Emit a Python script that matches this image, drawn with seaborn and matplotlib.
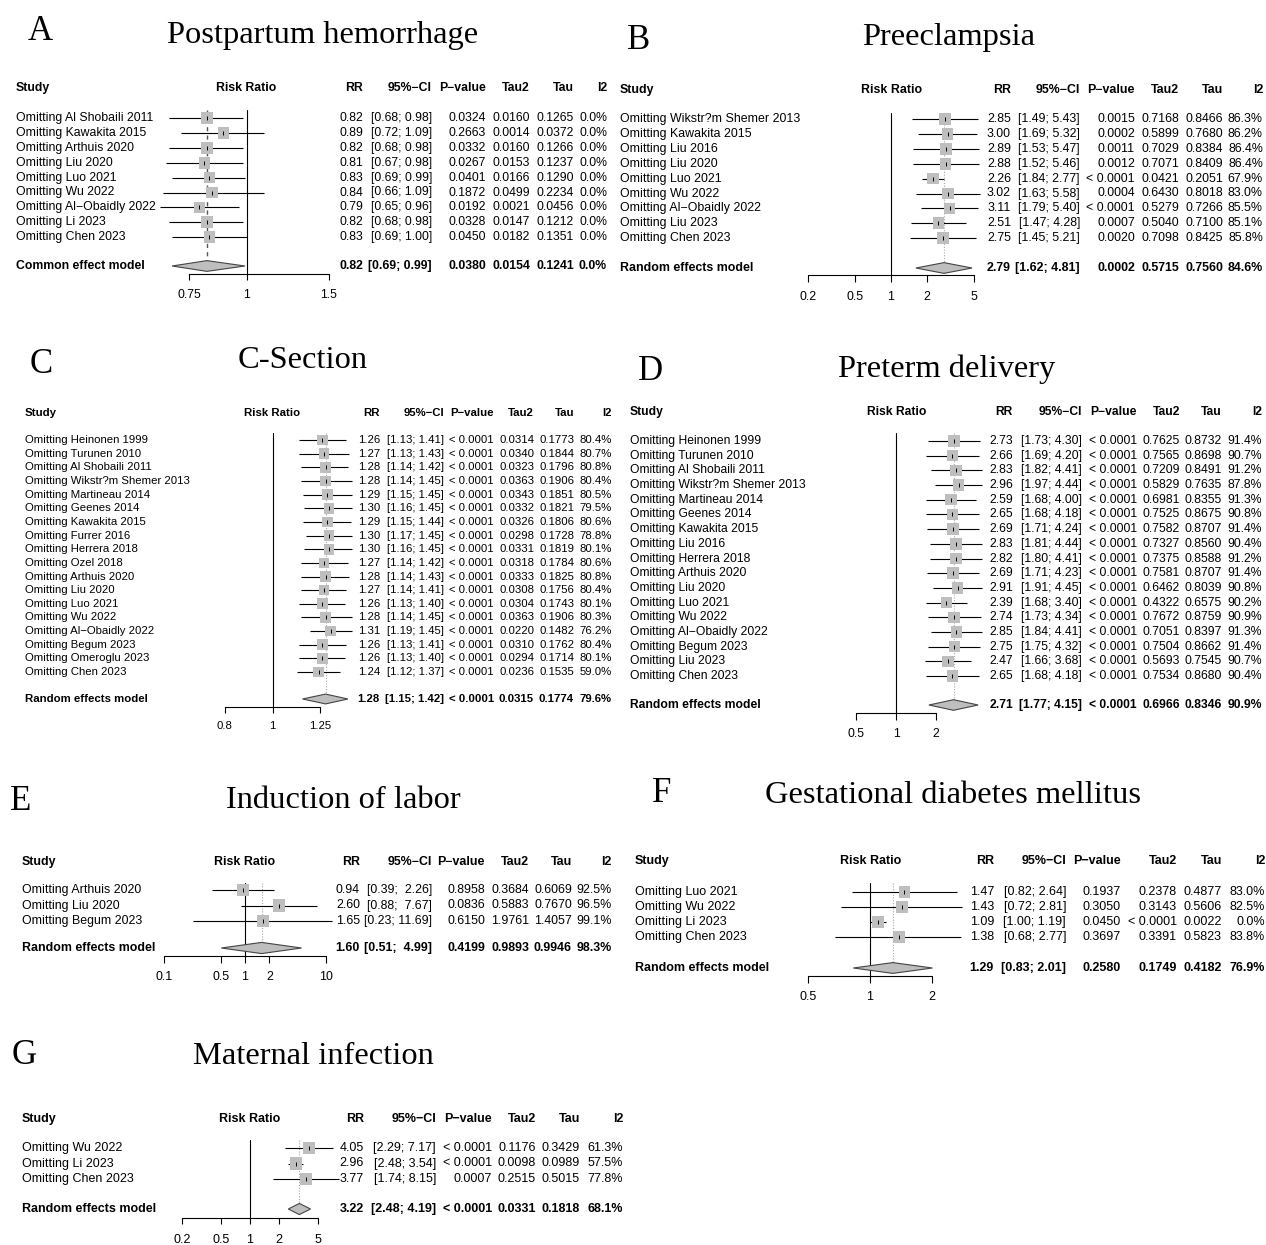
import numpy as np
import pandas as pd
import matplotlib
matplotlib.use("Agg")
import matplotlib.pyplot as plt
import seaborn as sns

M = "\u2212"

# ---------------- A: Postpartum hemorrhage ----------------
a_study = ["Omitting Al Shobaili 2011", "Omitting Kawakita 2015", "Omitting Arthuis 2020",
           "Omitting Liu 2020", "Omitting Luo 2021", "Omitting Wu 2022",
           "Omitting Al" + M + "Obaidly 2022", "Omitting Li 2023", "Omitting Chen 2023"]
a_rr = [0.82, 0.89, 0.82, 0.81, 0.83, 0.84, 0.79, 0.82, 0.83]
a_lo = [0.68, 0.72, 0.68, 0.67, 0.69, 0.66, 0.65, 0.68, 0.69]
a_hi = [0.98, 1.09, 0.98, 0.98, 0.99, 1.09, 0.96, 0.98, 1.00]
a_p = [0.0324, 0.2663, 0.0332, 0.0267, 0.0401, 0.1872, 0.0192, 0.0328, 0.0450]
a_tau2 = [0.0160, 0.0014, 0.0160, 0.0153, 0.0166, 0.0499, 0.0021, 0.0147, 0.0182]
a_tau = [0.1265, 0.0372, 0.1266, 0.1237, 0.1290, 0.2234, 0.0456, 0.1212, 0.1351]
a_i2 = [0.0, 0.0, 0.0, 0.0, 0.0, 0.0, 0.0, 0.0, 0.0]
a_sum = [0.82, 0.69, 0.99, 0.0380, 0.0154, 0.1241, 0.0]

# ---------------- B: Preeclampsia ----------------
b_study = ["Omitting Wikstr?m Shemer 2013", "Omitting Kawakita 2015", "Omitting Liu 2016",
           "Omitting Liu 2020", "Omitting Luo 2021", "Omitting Wu 2022",
           "Omitting Al" + M + "Obaidly 2022", "Omitting Liu 2023", "Omitting Chen 2023"]
b_rr = [2.85, 3.00, 2.89, 2.88, 2.26, 3.02, 3.11, 2.51, 2.75]
b_lo = [1.49, 1.69, 1.53, 1.52, 1.84, 1.63, 1.79, 1.47, 1.45]
b_hi = [5.43, 5.32, 5.47, 5.46, 2.77, 5.58, 5.40, 4.28, 5.21]
b_p = [0.0015, 0.0002, 0.0011, 0.0012, 0.0, 0.0004, 0.0, 0.0007, 0.0020]
b_tau2 = [0.7168, 0.5899, 0.7029, 0.7071, 0.0421, 0.6430, 0.5279, 0.5040, 0.7098]
b_tau = [0.8466, 0.7680, 0.8384, 0.8409, 0.2051, 0.8018, 0.7266, 0.7100, 0.8425]
b_i2 = [86.3, 86.2, 86.4, 86.4, 67.9, 83.0, 85.5, 85.1, 85.8]
b_sum = [2.79, 1.62, 4.81, 0.0002, 0.5715, 0.7560, 84.6]

# ---------------- C: C-Section ----------------
c_study = ["Omitting Heinonen 1999", "Omitting Turunen 2010", "Omitting Al Shobaili 2011",
           "Omitting Wikstr?m Shemer 2013", "Omitting Martineau 2014", "Omitting Geenes 2014",
           "Omitting Kawakita 2015", "Omitting Furrer 2016", "Omitting Herrera 2018",
           "Omitting Ozel 2018", "Omitting Arthuis 2020", "Omitting Liu 2020",
           "Omitting Luo 2021", "Omitting Wu 2022", "Omitting Al" + M + "Obaidly 2022",
           "Omitting Begum 2023", "Omitting Omeroglu 2023", "Omitting Chen 2023"]
c_rr = [1.26, 1.27, 1.28, 1.28, 1.29, 1.30, 1.29, 1.30, 1.30, 1.27, 1.28, 1.27, 1.26, 1.28, 1.31, 1.26, 1.26, 1.24]
c_lo = [1.13, 1.13, 1.14, 1.14, 1.15, 1.16, 1.15, 1.17, 1.16, 1.14, 1.14, 1.14, 1.13, 1.14, 1.19, 1.13, 1.13, 1.12]
c_hi = [1.41, 1.43, 1.42, 1.45, 1.45, 1.45, 1.44, 1.45, 1.45, 1.42, 1.43, 1.41, 1.40, 1.45, 1.45, 1.41, 1.40, 1.37]
c_p = [0.0] * 18
c_tau2 = [0.0314, 0.0340, 0.0323, 0.0363, 0.0343, 0.0332, 0.0326, 0.0298, 0.0331, 0.0318, 0.0333, 0.0308,
          0.0304, 0.0363, 0.0220, 0.0310, 0.0294, 0.0236]
c_tau = [0.1773, 0.1844, 0.1796, 0.1906, 0.1851, 0.1821, 0.1806, 0.1728, 0.1819, 0.1784, 0.1825, 0.1756,
         0.1743, 0.1906, 0.1482, 0.1762, 0.1714, 0.1535]
c_i2 = [80.4, 80.7, 80.8, 80.4, 80.5, 79.5, 80.6, 78.8, 80.1, 80.6, 80.8, 80.4, 80.1, 80.3, 76.2, 80.4, 80.1, 59.0]
c_sum = [1.28, 1.15, 1.42, 0.0, 0.0315, 0.1774, 79.6]

# ---------------- D: Preterm delivery ----------------
d_study = ["Omitting Heinonen 1999", "Omitting Turunen 2010", "Omitting Al Shobaili 2011",
           "Omitting Wikstr?m Shemer 2013", "Omitting Martineau 2014", "Omitting Geenes 2014",
           "Omitting Kawakita 2015", "Omitting Liu 2016", "Omitting Herrera 2018",
           "Omitting Arthuis 2020", "Omitting Liu 2020", "Omitting Luo 2021", "Omitting Wu 2022",
           "Omitting Al" + M + "Obaidly 2022", "Omitting Begum 2023", "Omitting Liu 2023",
           "Omitting Chen 2023"]
d_rr = [2.73, 2.66, 2.83, 2.96, 2.59, 2.65, 2.69, 2.83, 2.82, 2.69, 2.91, 2.39, 2.74, 2.85, 2.75, 2.47, 2.65]
d_lo = [1.73, 1.69, 1.82, 1.97, 1.68, 1.68, 1.71, 1.81, 1.80, 1.71, 1.91, 1.68, 1.73, 1.84, 1.75, 1.66, 1.68]
d_hi = [4.30, 4.20, 4.41, 4.44, 4.00, 4.18, 4.24, 4.44, 4.41, 4.23, 4.45, 3.40, 4.34, 4.41, 4.32, 3.68, 4.18]
d_p = [0.0] * 17
d_tau2 = [0.7625, 0.7565, 0.7209, 0.5829, 0.6981, 0.7525, 0.7582, 0.7327, 0.7375, 0.7581, 0.6462, 0.4322,
          0.7672, 0.7051, 0.7504, 0.5693, 0.7534]
d_tau = [0.8732, 0.8698, 0.8491, 0.7635, 0.8355, 0.8675, 0.8707, 0.8560, 0.8588, 0.8707, 0.8039, 0.6575,
         0.8759, 0.8397, 0.8662, 0.7545, 0.8680]
d_i2 = [91.4, 90.7, 91.2, 87.8, 91.3, 90.8, 91.4, 90.4, 91.2, 91.4, 90.8, 90.2, 90.9, 91.3, 91.4, 90.7, 90.4]
d_sum = [2.71, 1.77, 4.15, 0.0, 0.6966, 0.8346, 90.9]

# ---------------- E: Induction of labor ----------------
e_study = ["Omitting Arthuis 2020", "Omitting Liu 2020", "Omitting Begum 2023"]
e_rr = [0.94, 2.60, 1.65]
e_lo = [0.39, 0.88, 0.23]
e_hi = [2.26, 7.67, 11.69]
e_p = [0.8958, 0.0836, 0.6150]
e_tau2 = [0.3684, 0.5883, 1.9761]
e_tau = [0.6069, 0.7670, 1.4057]
e_i2 = [92.5, 96.5, 99.1]
e_sum = [1.60, 0.51, 4.99, 0.4199, 0.9893, 0.9946, 98.3]

# ---------------- F: Gestational diabetes mellitus ----------------
f_study = ["Omitting Luo 2021", "Omitting Wu 2022", "Omitting Li 2023", "Omitting Chen 2023"]
f_rr = [1.47, 1.43, 1.09, 1.38]
f_lo = [0.82, 0.72, 1.00, 0.68]
f_hi = [2.64, 2.81, 1.19, 2.77]
f_p = [0.1937, 0.3050, 0.0450, 0.3697]
f_tau2 = [0.2378, 0.3143, 0.0, 0.3391]
f_tau = [0.4877, 0.5606, 0.0022, 0.5823]
f_i2 = [83.0, 82.5, 0.0, 83.8]
f_sum = [1.29, 0.83, 2.01, 0.2580, 0.1749, 0.4182, 76.9]

# ---------------- G: Maternal infection ----------------
g_study = ["Omitting Wu 2022", "Omitting Li 2023", "Omitting Chen 2023"]
g_rr = [4.05, 2.96, 3.77]
g_lo = [2.29, 2.48, 1.74]
g_hi = [7.17, 3.54, 8.15]
g_p = [0.0, 0.0, 0.0007]
g_tau2 = [0.1176, 0.0098, 0.2515]
g_tau = [0.3429, 0.0989, 0.5015]
g_i2 = [61.3, 57.5, 77.8]
g_sum = [3.22, 2.48, 4.19, 0.0, 0.0331, 0.1818, 68.1]

# layout in pixels of the 1266x1245 canvas
panels = [
    dict(letter="A", title="Postpartum hemorrhage", data=(a_study, a_rr, a_lo, a_hi, a_p, a_tau2, a_tau, a_i2, a_sum),
         model="Common effect model", fs=8.85, sx=16, one=247, k=202, rrc=246,
         cols=[363, 432, 486, 530, 574, 607], yh=88, y0=118, step=14.9, ys=266, ya=274, yt=280, yl=295,
         yv=110, ticks=[0.75, 1, 1.5], lpos=(28, 40), tpos=(167, 43), dash=True),
    dict(letter="B", title="Preeclampsia", data=(b_study, b_rr, b_lo, b_hi, b_p, b_tau2, b_tau, b_i2, b_sum),
         model="Random effects model", fs=8.9, sx=620, one=891, k=51.6, rrc=892,
         cols=[1011, 1080, 1135, 1179, 1223, 1263], yh=90, y0=119, step=14.9, ys=268, ya=275, yt=282, yl=297,
         yv=113, ticks=[0.2, 0.5, 1, 2, 5], lpos=(627, 49), tpos=(862, 45), dash=False),
    dict(letter="C", title="C-Section", data=(c_study, c_rr, c_lo, c_hi, c_p, c_tau2, c_tau, c_i2, c_sum),
         model="Random effects model", fs=8.17, sx=25, one=272.5, k=215, rrc=272,
         cols=[380, 444, 494, 534, 574, 612], yh=413, y0=440, step=13.65, ys=699, ya=707, yt=713, yl=726,
         yv=433, ticks=[0.8, 1, 1.25], lpos=(30, 373), tpos=(238, 368), dash=False),
    dict(letter="D", title="Preterm delivery", data=(d_study, d_rr, d_lo, d_hi, d_p, d_tau2, d_tau, d_i2, d_sum),
         model="Random effects model", fs=8.77, sx=630, one=896, k=57.7, rrc=897,
         cols=[1013, 1082, 1137, 1180, 1222, 1262], yh=412, y0=441, step=14.69, ys=705, ya=713, yt=720, yl=734,
         yv=433, ticks=[0.5, 1, 2], lpos=(638, 380), tpos=(838, 377), dash=False),
    dict(letter="E", title="Induction of labor", data=(e_study, e_rr, e_lo, e_hi, e_p, e_tau2, e_tau, e_i2, e_sum),
         model="Random effects model", fs=8.9, sx=22, one=245, k=35.2, rrc=245,
         cols=[360, 432, 485, 529, 572, 612], yh=862, y0=890, step=15.5, ys=948, ya=956, yt=963, yl=977,
         yv=883, ticks=[0.1, 0.5, 1, 2, 10], lpos=(10, 810), tpos=(226, 808), dash=False),
    dict(letter="F", title="Gestational diabetes mellitus", data=(f_study, f_rr, f_lo, f_hi, f_p, f_tau2, f_tau, f_i2, f_sum),
         model="Random effects model", fs=9.0, sx=635, one=870, k=89.5, rrc=871,
         cols=[994, 1066, 1121, 1177, 1222, 1265], yh=861, y0=892, step=15.0, ys=968, ya=976, yt=983, yl=997,
         yv=883, ticks=[0.5, 1, 2], lpos=(652, 802), tpos=(765, 803), dash=False),
    dict(letter="G", title="Maternal infection", data=(g_study, g_rr, g_lo, g_hi, g_p, g_tau2, g_tau, g_i2, g_sum),
         model="Random effects model", fs=9.0, sx=22, one=250, k=42.2, rrc=250,
         cols=[364, 436, 492, 536, 580, 623], yh=1119, y0=1148, step=15.5, ys=1209, ya=1218, yt=1224, yl=1240,
         yv=1140, ticks=[0.2, 0.5, 1, 2, 5], lpos=(12, 1064), tpos=(193, 1064), dash=False),
]

W, H = 1266, 1245
sns.set_theme(style="white")
plt.rcParams["font.family"] = ["Liberation Sans", "DejaVu Sans"]
plt.rcParams["text.color"] = "black"

fig = plt.figure(figsize=(W / 100, H / 100), dpi=100)
fig.patch.set_facecolor("white")
canvas = fig.add_axes([0, 0, 1, 1])
canvas.set_xlim(0, W)
canvas.set_ylim(H, 0)
canvas.axis("off")

SERIF = ["Liberation Serif", "DejaVu Serif"]
SQ_COL = "#BEBEBE"


def fmt_p(v):
    return "< 0.0001" if v < 0.0001 else f"{v:.4f}"


for pan in panels:
    study, rr, lo, hi, pv, tau2, tau, i2, summ = pan["data"]
    n = len(study)
    fs = pan["fs"]
    step = pan["step"]
    ys_rows = [pan["y0"] + i * step for i in range(n)]
    ysum = pan["ys"]

    # letters and titles
    canvas.text(pan["lpos"][0], pan["lpos"][1], pan["letter"], family=SERIF, fontsize=25,
                ha="left", va="baseline")
    canvas.text(pan["tpos"][0], pan["tpos"][1], pan["title"], family=SERIF, fontsize=23.4,
                ha="left", va="baseline")

    # header
    canvas.text(pan["sx"], pan["yh"], "Study", fontsize=fs, weight="bold", ha="left", va="center")
    canvas.text(pan["rrc"], pan["yh"], "Risk Ratio", fontsize=fs, weight="bold", ha="center", va="center")
    for lab, cx in zip(["RR", "95%" + M + "CI", "P" + M + "value", "Tau2", "Tau", "I2"], pan["cols"]):
        canvas.text(cx, pan["yh"], lab, fontsize=fs, weight="bold", ha="right", va="center")

    # text columns
    los = [f"{v:.2f}" for v in lo + [summ[1]]]
    his = [f"{v:.2f}" for v in hi + [summ[2]]]
    wl = max(len(s) for s in los)
    wh = max(len(s) for s in his)
    ci = ["[" + a.rjust(wl) + "; " + b.rjust(wh) + "]" for a, b in zip(los, his)]
    rows = []
    for i in range(n):
        rows.append((study[i], [f"{rr[i]:.2f}", ci[i], fmt_p(pv[i]), fmt_p(tau2[i]),
                                f"{tau[i]:.4f}", f"{i2[i]:.1f}%"], ys_rows[i], "normal"))
    rows.append((pan["model"], [f"{summ[0]:.2f}", ci[-1], fmt_p(summ[3]), fmt_p(summ[4]),
                                f"{summ[5]:.4f}", f"{summ[6]:.1f}%"], ysum, "bold"))
    for lab, vals, y, wt in rows:
        canvas.text(pan["sx"], y, lab, fontsize=fs, weight=wt, ha="left", va="center")
        for v, cx in zip(vals, pan["cols"]):
            canvas.text(cx, y, v, fontsize=fs, weight=wt, ha="right", va="center")

    # forest axes: x in log(RR), y in canvas pixels
    half = 160
    top, bot = pan["yv"] - 20, pan["yl"] + 15
    ax = fig.add_axes([(pan["one"] - half) / W, 1 - bot / H, 2 * half / W, (bot - top) / H])
    ax.set_xscale("log")
    ax.axis("off")

    df = pd.DataFrame({"rr": rr, "lo": lo, "hi": hi, "y": ys_rows})
    ax.hlines(df["y"], df["lo"], df["hi"], color="black", lw=0.8, zorder=2)
    side_pt = 0.78 * step / 1.389
    sns.scatterplot(data=df, x="rr", y="y", marker="s", s=side_pt ** 2, color=SQ_COL,
                    edgecolor="none", linewidth=0, ax=ax, legend=False, zorder=3)
    ax.scatter(df["rr"], df["y"], marker="|", s=(0.3 * step / 1.389) ** 2, color="black",
               linewidths=0.7, zorder=4)

    # reference line, summary line, diamond
    dh = 0.36 * step
    ax.plot([1, 1], [pan["yv"], pan["ya"]], color="black", lw=0.8, zorder=1)
    if pan["dash"]:
        ax.plot([summ[0], summ[0]], [pan["yv"], ysum - dh], color="#555555", lw=1.0,
                linestyle=(0, (3, 3)), zorder=1)
    else:
        ax.plot([summ[0], summ[0]], [pan["yv"], ysum - dh], color="#A8A8A8", lw=0.8,
                linestyle=(0, (1, 1.5)), zorder=1)
    ax.fill([summ[1], summ[0], summ[2], summ[0]], [ysum, ysum - dh, ysum, ysum + dh],
            facecolor=SQ_COL, edgecolor="#444444", lw=0.8, zorder=3)

    # x axis
    t = pan["ticks"]
    ax.plot([t[0], t[-1]], [pan["ya"], pan["ya"]], color="black", lw=0.8)
    ax.vlines(t, pan["ya"], pan["yt"], color="black", lw=0.8)
    for tv in t:
        ax.text(tv, pan["yl"], f"{tv:g}", fontsize=fs, ha="center", va="center")

    ax.set_xlim(np.exp(-half / pan["k"]), np.exp(half / pan["k"]))
    ax.set_ylim(bot, top)

fig.savefig("out.png", dpi=100, facecolor="white")
